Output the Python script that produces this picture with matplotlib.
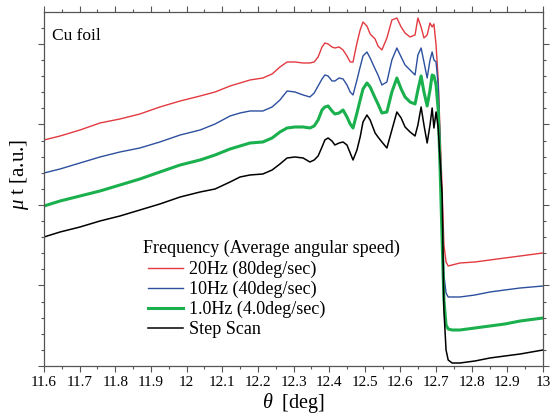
import matplotlib
matplotlib.use('Agg')
import matplotlib.pyplot as plt
from matplotlib.ticker import MultipleLocator, FuncFormatter

plt.rcParams['font.family'] = ['Liberation Serif', 'DejaVu Serif']
plt.rcParams['mathtext.fontset'] = 'custom'
plt.rcParams['mathtext.it'] = 'Liberation Serif:italic'
plt.rcParams['mathtext.rm'] = 'Liberation Serif'

# angle grid [deg], shared by all scans
theta = [11.600, 11.645, 11.701, 11.757, 11.813, 11.869, 11.925, 11.982, 12.038, 12.080,
         12.122, 12.150, 12.178, 12.214, 12.240, 12.262, 12.282, 12.304, 12.327, 12.346,
         12.358, 12.369, 12.380, 12.388, 12.397, 12.408, 12.416, 12.428, 12.439, 12.450,
         12.459, 12.467, 12.478, 12.487, 12.495, 12.506, 12.515, 12.529, 12.537, 12.548,
         12.562, 12.576, 12.590, 12.602, 12.613, 12.627, 12.641, 12.649, 12.658, 12.666,
         12.675, 12.683, 12.689, 12.694, 12.700, 12.706, 12.711, 12.717, 12.722, 12.728,
         12.734, 12.745, 12.767, 12.809, 12.851, 12.893, 12.936, 13.000]

# mu*t in arbitrary units (each scan already offset)
mu_20hz = [226, 230, 236, 243, 247, 252, 259, 265, 270, 274,
           280, 283, 286, 288, 292, 299, 304, 304, 303, 303,
           304, 309, 319, 323, 322, 319, 318, 319, 316, 310,
           304, 304, 323, 336, 344, 340, 332, 327, 320, 316,
           328, 346, 348, 339, 333, 329, 331, 348, 339, 328,
           331, 343, 339, 342, 321, 286, 236, 176, 121, 104,
           100, 101, 103, 104, 106, 108, 110, 113]
mu_10hz = [193, 197, 203, 209, 214, 218, 224, 231, 236, 242,
           250, 253, 255, 255, 259, 266, 275, 274, 271, 269,
           273, 280, 287, 291, 290, 285, 285, 288, 287, 281,
           274, 271, 286, 299, 310, 314, 308, 297, 291, 281,
           284, 306, 318, 309, 301, 296, 291, 311, 318, 304,
           288, 306, 314, 306, 304, 281, 226, 151, 91, 73,
           69, 69, 69, 71, 74, 76, 78, 80]
mu_1hz = [160, 165, 170, 175, 181, 187, 194, 201, 206, 211,
          217, 220, 223, 224, 228, 234, 238, 239, 239, 238,
          240, 246, 256, 259, 260, 255, 252, 253, 256, 249,
          242, 238, 253, 266, 277, 283, 279, 268, 262, 253,
          254, 274, 288, 277, 269, 264, 262, 276, 290, 274,
          260, 276, 291, 290, 281, 256, 201, 126, 66, 41,
          37, 36, 36, 38, 40, 42, 45, 48]
mu_step = [129, 134, 139, 145, 150, 156, 162, 169, 174, 177,
           184, 189, 191, 192, 196, 202, 208, 209, 208, 204,
           206, 210, 219, 226, 228, 225, 221, 223, 224, 221,
           213, 206, 216, 229, 244, 251, 246, 233, 229, 224,
           218, 236, 254, 248, 239, 234, 230, 241, 259, 241,
           223, 241, 258, 238, 254, 238, 208, 171, 56, 16,
           6, 3, 3, 5, 8, 10, 12, 16]

series = [
    ('20Hz (80deg/sec)', mu_20hz, '#e23a40', 1.0),
    ('10Hz (40deg/sec)', mu_10hz, '#2c4f9e', 1.0),
    ('1.0Hz (4.0deg/sec)', mu_1hz, '#1bb04e', 2.2),
    ('Step Scan', mu_step, '#000000', 1.1),
]

fig = plt.figure(figsize=(5.58, 4.16), dpi=100)
ax = fig.add_axes([0.0789, 0.1202, 0.8942, 0.8510])

for label, vals, color, lw in series:
    ax.plot(theta, vals, color=color, lw=lw, label=label)

ax.set_xlim(11.6, 13.0)
ax.set_ylim(0, 354)

ax.xaxis.set_major_locator(MultipleLocator(0.1))
ax.xaxis.set_minor_locator(MultipleLocator(0.05))
ax.xaxis.set_major_formatter(FuncFormatter(lambda v, p: f'{round(v, 1):g}'))
ax.yaxis.set_major_locator(MultipleLocator(80.5))
ax.yaxis.set_minor_locator(MultipleLocator(16.1))
ax.yaxis.set_major_formatter(FuncFormatter(lambda v, p: ''))

ax.tick_params(which='both', direction='out', top=True, right=True,
               width=0.8, color='#555555', labelsize=11)
ax.tick_params(which='major', length=4)
ax.tick_params(which='minor', length=2.5)
for sp in ax.spines.values():
    sp.set_color('#555555')
    sp.set_linewidth(0.9)

ax.set_xlabel(r'$\theta$  [deg]', fontsize=14.5)
ax.xaxis.set_label_coords(0.5, -0.072)
ax.set_ylabel(r'$\mu$ t [a.u.]', fontsize=15)
ax.yaxis.set_label_coords(-0.026, 0.54)

ax.text(0.016, 0.955, 'Cu foil', transform=ax.transAxes, fontsize=12.5,
        ha='left', va='top')

# legend heading drawn separately so the entries can sit indented under it
ax.text(0.198, 0.333, 'Frequency (Average angular speed)', transform=ax.transAxes,
        fontsize=13, ha='left', va='center')
leg = ax.legend(loc='upper left', bbox_to_anchor=(0.208, 0.297), frameon=False,
                fontsize=13, borderpad=0, labelspacing=0.15, handlelength=1.95,
                handletextpad=0.35, borderaxespad=0)

fig.savefig('out.png', dpi=100)
